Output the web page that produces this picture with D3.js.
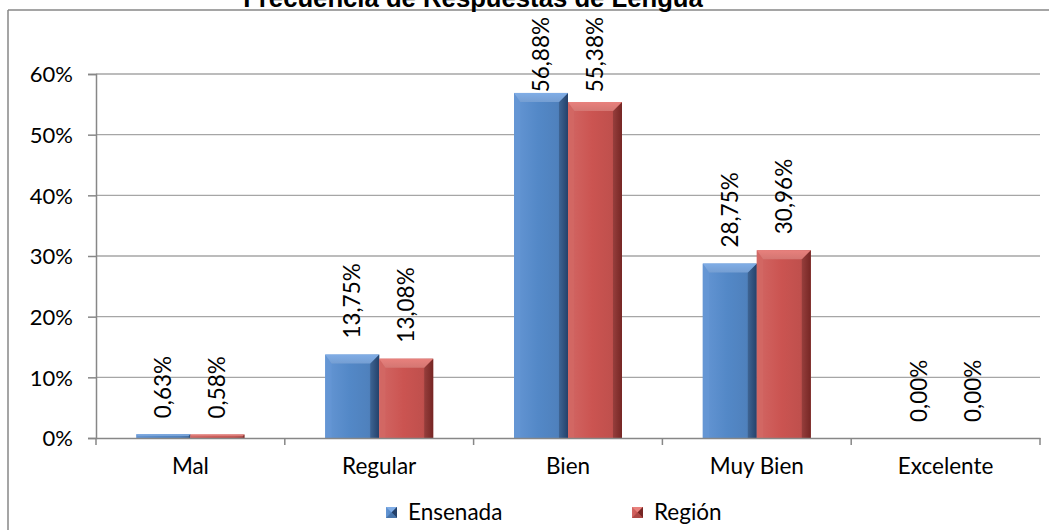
<!DOCTYPE html>
<html>
<head>
<meta charset="utf-8">
<script src="https://cdn.jsdelivr.net/npm/d3@7"></script>
<style>
  html, body { margin: 0; padding: 0; background: #fff; }
  svg { display: block; }
  text { font-family: Lato, "Open Sans", sans-serif; fill: #000; }
</style>
</head>
<body>
<svg id="chart" width="1049" height="530"></svg>
<script>
const title = "Frecuencia de Respuestas de Lengua";
const categories = ["Mal", "Regular", "Bien", "Muy Bien", "Excelente"];
const seriesNames = ["Ensenada", "Región"];
const ensenada = [0.63, 13.75, 56.88, 28.75, 0.00];
const region = [0.58, 13.08, 55.38, 30.96, 0.00];
const yTicks = [0, 10, 20, 30, 40, 50, 60];

const svg = d3.select("#chart");
const W = 1049, H = 530;
const plot = { left: 96, right: 1040, top: 74, bottom: 438 };

const x0 = d3.scaleBand().domain(categories).range([plot.left, plot.right]).padding(0);
const groupPad = 0.214 * x0.bandwidth();
const x1 = d3.scaleBand().domain(seriesNames).range([groupPad, x0.bandwidth() - groupPad]).padding(0);
const y = d3.scaleLinear().domain([0, 60]).range([plot.bottom, plot.top]);

const palette = {
  "Ensenada": { body: "#4f81bd", light: "#80ade6", left: "#6596d4", dark: "#24416a" },
  "Región": { body: "#c0504d", light: "#e8817d", left: "#d26764", dark: "#762624" }
};

// gradients
const defs = svg.append("defs");
seriesNames.forEach((s, i) => {
  const p = palette[s];
  const g = defs.append("linearGradient").attr("id", "body" + i).attr("x1", "0").attr("x2", "1").attr("y1", "0").attr("y2", "0");
  g.append("stop").attr("offset", "0%").attr("stop-color", p.left);
  g.append("stop").attr("offset", "45%").attr("stop-color", d3.color(p.body).brighter(0.15));
  g.append("stop").attr("offset", "80%").attr("stop-color", p.body);
  g.append("stop").attr("offset", "100%").attr("stop-color", d3.color(p.body).darker(0.5));
  const t = defs.append("linearGradient").attr("id", "top" + i).attr("x1", "0").attr("x2", "0").attr("y1", "0").attr("y2", "1");
  t.append("stop").attr("offset", "0%").attr("stop-color", p.light);
  t.append("stop").attr("offset", "100%").attr("stop-color", d3.color(p.light).darker(0.25));
  const r = defs.append("linearGradient").attr("id", "right" + i).attr("x1", "0").attr("x2", "1").attr("y1", "0").attr("y2", "0");
  r.append("stop").attr("offset", "0%").attr("stop-color", d3.color(p.body).darker(0.7));
  r.append("stop").attr("offset", "100%").attr("stop-color", p.dark);
});

// chart border (top and left visible)
svg.append("line").attr("x1", 8).attr("x2", W).attr("y1", 10).attr("y2", 10)
  .attr("stroke", "#878787").attr("stroke-width", 1.5);
svg.append("line").attr("x1", 8).attr("x2", 8).attr("y1", 10).attr("y2", H)
  .attr("stroke", "#878787").attr("stroke-width", 1.5);

// title (clipped at top as in reference)
svg.append("text").attr("x", 473).attr("y", 7).attr("text-anchor", "middle")
  .style("font-family", "'Liberation Sans', Arial, sans-serif")
  .style("font-weight", "bold").style("font-size", "25.7px").text(title);

// gridlines
svg.append("g").selectAll("line").data(yTicks.filter(d => d > 0)).join("line")
  .attr("x1", plot.left).attr("x2", plot.right)
  .attr("y1", d => y(d)).attr("y2", d => y(d))
  .attr("stroke", "#a6a6a6").attr("stroke-width", 1.3);

// y axis
const yAxis = d3.axisLeft(y).tickValues(yTicks).tickFormat(d => d + "%").tickSize(8).tickPadding(15);
const yg = svg.append("g").attr("transform", `translate(${plot.left},0)`).call(yAxis);
yg.select(".domain").attr("stroke", "#878787").attr("stroke-width", 1.5);
yg.selectAll(".tick line").attr("stroke", "#878787").attr("stroke-width", 1.5);
yg.selectAll(".tick text").style("font-family", "Lato, sans-serif").style("font-size", "22px").attr("fill", "#000").attr("dy", "0.35em");

// bars
const rows = categories.map((c, i) => ({ cat: c, values: [ensenada[i], region[i]] }));
const groups = svg.append("g").selectAll("g").data(rows).join("g")
  .attr("transform", d => `translate(${x0(d.cat)},0)`);

groups.each(function(d) {
  const g = d3.select(this);
  d.values.forEach((v, si) => {
    const s = seriesNames[si];
    const bx = x1(s), bw = x1.bandwidth();
    const top = y(v), bot = y(0);
    const h = bot - top;
    if (h <= 0) return;
    const b = Math.min(9, h / 2);
    g.append("rect").attr("x", bx).attr("y", top).attr("width", bw).attr("height", h)
      .attr("fill", `url(#body${si})`);
    // right bevel
    g.append("polygon").attr("points", [[bx + bw, top], [bx + bw, bot], [bx + bw - b, bot], [bx + bw - b, top + b]].join(" "))
      .attr("fill", `url(#right${si})`);
    // left bevel
    g.append("polygon").attr("points", [[bx, top], [bx + b * 0.7, top + b], [bx + b * 0.7, bot], [bx, bot]].join(" "))
      .attr("fill", palette[s].left).attr("opacity", 0.9);
    // top bevel
    g.append("polygon").attr("points", [[bx, top], [bx + bw, top], [bx + bw - b, top + b], [bx + b * 0.7, top + b]].join(" "))
      .attr("fill", `url(#top${si})`);
  });
});

// data labels (rotated)
const fmt = v => v.toFixed(2).replace(".", ",") + "%";
groups.each(function(d) {
  const g = d3.select(this);
  d.values.forEach((v, si) => {
    const s = seriesNames[si];
    const cx = x1(s) + x1.bandwidth() / 2;
    const t = g.append("text").style("font-size", "22.5px").attr("text-anchor", "start").text(fmt(v));
    const len = t.node().getComputedTextLength();
    const start = Math.max(y(v) - 16, 17 + len);
    t.attr("transform", `translate(${cx + 8},${start}) rotate(-90)`);
  });
});

// x axis
const xAxis = d3.axisBottom(x0).tickSize(0).tickPadding(20);
const xg = svg.append("g").attr("transform", `translate(0,${plot.bottom})`).call(xAxis);
xg.select(".domain").attr("stroke", "#878787").attr("stroke-width", 1.5);
xg.selectAll(".tick text").style("font-family", "Lato, sans-serif").style("font-size", "22.5px").attr("fill", "#000");
// boundary tick marks
const bounds = categories.map(c => x0(c)).concat([plot.right]);
svg.append("g").selectAll("line").data(bounds).join("line")
  .attr("x1", d => d).attr("x2", d => d).attr("y1", plot.bottom).attr("y2", plot.bottom + 7)
  .attr("stroke", "#878787").attr("stroke-width", 1.5);

// legend
const legendX = [386, 632];
const lg = svg.append("g").selectAll("g").data(seriesNames).join("g")
  .attr("transform", (d, i) => `translate(${legendX[i]},507)`);
lg.append("rect").attr("width", 11).attr("height", 11).attr("fill", (d, i) => `url(#body${i})`);
lg.append("polygon").attr("points", "0,0 11,0 5.5,5.5").attr("fill", d => palette[d].light);
lg.append("polygon").attr("points", "11,0 11,11 5.5,5.5").attr("fill", d => palette[d].dark);
lg.append("polygon").attr("points", "0,11 11,11 5.5,5.5").attr("fill", d => d3.color(palette[d].body).darker(0.3));
lg.append("text").attr("x", 22).attr("y", 13).style("font-size", "22.5px").text(d => d);
</script>
</body>
</html>
